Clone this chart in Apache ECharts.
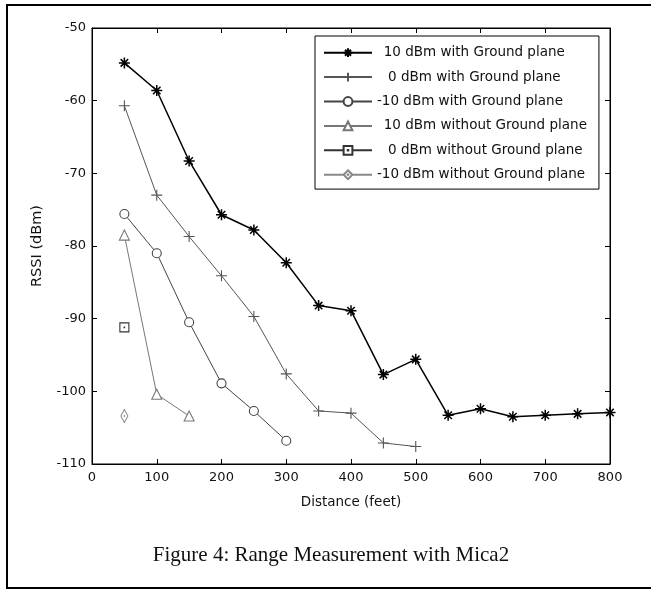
<!DOCTYPE html>
<html>
<head>
<meta charset="utf-8">
<script src="https://cdn.jsdelivr.net/npm/echarts@6/dist/echarts.min.js"></script>
<style>
html,body{margin:0;padding:0;background:#fff;}
#c{width:651px;height:590px;}
</style>
</head>
<body>
<div id="c"></div>
<script>
// ---- data ----
const seriesNames = [
  '10 dBm with Ground plane',
  '0 dBm with Ground plane',
  '-10 dBm with Ground plane',
  '10 dBm without Ground plane',
  '0 dBm without Ground plane',
  '-10 dBm without Ground plane'
];
const distGP10 = [50,100,150,200,250,300,350,400,450,500,550,600,650,700,750,800];
const rssiGP10 = [-54.8,-58.6,-68.3,-75.7,-77.8,-82.3,-88.2,-88.9,-97.7,-95.6,-103.3,-102.4,-103.5,-103.3,-103.1,-102.9];
const distGP0 = [50,100,150,200,250,300,350,400,450,500];
const rssiGP0 = [-60.7,-73.0,-78.7,-84.1,-89.7,-97.6,-102.7,-103.0,-107.1,-107.6];
const distGPm10 = [50,100,150,200,250,300];
const rssiGPm10 = [-75.6,-81.0,-90.5,-98.9,-102.7,-106.8];
const distNoGP10 = [50,100,150];
const rssiNoGP10 = [-78.5,-100.4,-103.4];
const distNoGP0 = [50];
const rssiNoGP0 = [-91.2];
const distNoGPm10 = [50];
const rssiNoGPm10 = [-103.4];
const xTicks = {min:0, max:800, interval:100};
const yTicks = {min:-110, max:-50, interval:10};
const xTitle = 'Distance (feet)';
const yTitle = 'RSSI (dBm)';
const caption = 'Figure 4: Range Measurement with Mica2';

function pairs(xs, ys){ return xs.map((x,i)=>[x, ys[i]]); }

const styles = [
  {sym:'path://M5,0L5,10M0,5L10,5M1.6,1.6L8.4,8.4M8.4,1.6L1.6,8.4', size:11, line:'#000', lw:1.5, bw:1.5, fill:'#000'},
  {sym:'path://M5,0L5,10M0,5L10,5', size:11, line:'#555', lw:1, bw:1.1, fill:'#555'},
  {sym:'circle', size:9, line:'#444', lw:1, bw:1.1, fill:'#fff'},
  {sym:'triangle', size:10, line:'#777', lw:1, bw:1.1, fill:'#fff'},
  {sym:'path://M0,0L10,0L10,10L0,10ZM4.7,4.7L5.3,4.7L5.3,5.3L4.7,5.3Z', size:9, line:'#333', lw:1, bw:1.1, fill:'#fff'},
  {sym:'path://M5,0L10,8L5,16L0,8ZM4.7,7.7L5.3,7.7L5.3,8.3L4.7,8.3Z', size:[7,13], line:'#888', lw:1, bw:1.1, fill:'#fff'}
];
const dataSets = [
  pairs(distGP10, rssiGP10),
  pairs(distGP0, rssiGP0),
  pairs(distGPm10, rssiGPm10),
  pairs(distNoGP10, rssiNoGP10),
  pairs(distNoGP0, rssiNoGP0),
  pairs(distNoGPm10, rssiNoGPm10)
];
const legendPad = {
  '10 dBm with Ground plane': '\u2002' + '10 dBm with Ground plane',
  '0 dBm with Ground plane': '\u2002 ' + '0 dBm with Ground plane',
  '-10 dBm with Ground plane': '-10 dBm with Ground plane',
  '10 dBm without Ground plane': '\u2002' + '10 dBm without Ground plane',
  '0 dBm without Ground plane': '\u2002 ' + '0 dBm without Ground plane',
  '-10 dBm without Ground plane': '-10 dBm without Ground plane'
};

const font = 'DejaVu Sans';
const chart = echarts.init(document.getElementById('c'), null, {renderer:'canvas'});

const series = seriesNames.map((name, i) => ({
  name: name,
  type: 'line',
  xAxisIndex: 0,
  yAxisIndex: 0,
  data: dataSets[i],
  symbol: styles[i].sym,
  symbolSize: styles[i].size,
  showSymbol: true,
  showAllSymbol: true,
  lineStyle: {color: styles[i].line, width: styles[i].lw},
  itemStyle: {color: styles[i].fill, borderColor: styles[i].line, borderWidth: styles[i].bw},
  emphasis: {disabled: true},
  z: 10 - i
}));

const axisCommon = {
  type: 'value',
  splitLine: {show: false},
  axisLine: {show: true, onZero: false, lineStyle: {color: '#000', width: 1}},
  axisTick: {show: true, inside: true, length: 5, lineStyle: {color: '#000', width: 1}}
};

chart.setOption({
  animation: false,
  backgroundColor: '#fff',
  textStyle: {fontFamily: font},
  grid: {left: 92, top: 28, right: 41, bottom: 126, show: true, borderColor: '#000', borderWidth: 1, containLabel: false},
  xAxis: [
    Object.assign({}, axisCommon, {
      position: 'bottom', min: xTicks.min, max: xTicks.max, interval: xTicks.interval,
      axisLabel: {color: '#111', fontFamily: font, fontSize: 13, margin: 7},
      name: xTitle, nameLocation: 'middle', nameGap: 31,
      nameTextStyle: {color: '#111', fontFamily: font, fontSize: 13.5}
    }),
    Object.assign({}, axisCommon, {
      position: 'top', min: xTicks.min, max: xTicks.max, interval: xTicks.interval,
      axisLabel: {show: false}
    })
  ],
  yAxis: [
    Object.assign({}, axisCommon, {
      position: 'left', min: yTicks.min, max: yTicks.max, interval: yTicks.interval,
      axisLabel: {color: '#111', fontFamily: font, fontSize: 13, margin: 6},
      name: yTitle, nameLocation: 'middle', nameGap: 47,
      nameTextStyle: {color: '#111', fontFamily: font, fontSize: 14.5}
    }),
    Object.assign({}, axisCommon, {
      position: 'right', min: yTicks.min, max: yTicks.max, interval: yTicks.interval,
      axisLabel: {show: false}
    })
  ],
  legend: {
    show: true,
    orient: 'vertical',
    left: 315,
    top: 36,
    data: seriesNames,
    itemWidth: 48,
    itemHeight: 11,
    itemGap: 10.4,
    padding: [9.7, 12, 7.4, 8],
    backgroundColor: '#fff',
    borderColor: '#000',
    borderWidth: 1,
    selectedMode: false,
    formatter: n => legendPad[n],
    textStyle: {color: '#111', fontFamily: font, fontSize: 13.5, lineHeight: 14}
  },
  graphic: [
    {type: 'rect', shape: {x: 7, y: 5, width: 660, height: 583}, style: {fill: 'none', stroke: '#000', lineWidth: 2}, silent: true, z: 100},
    {type: 'text', x: 331, y: 555, style: {text: caption, font: '21px "Liberation Serif"', fill: '#111', textAlign: 'center', textVerticalAlign: 'middle'}, silent: true}
  ],
  series: series
});
</script>
</body>
</html>
